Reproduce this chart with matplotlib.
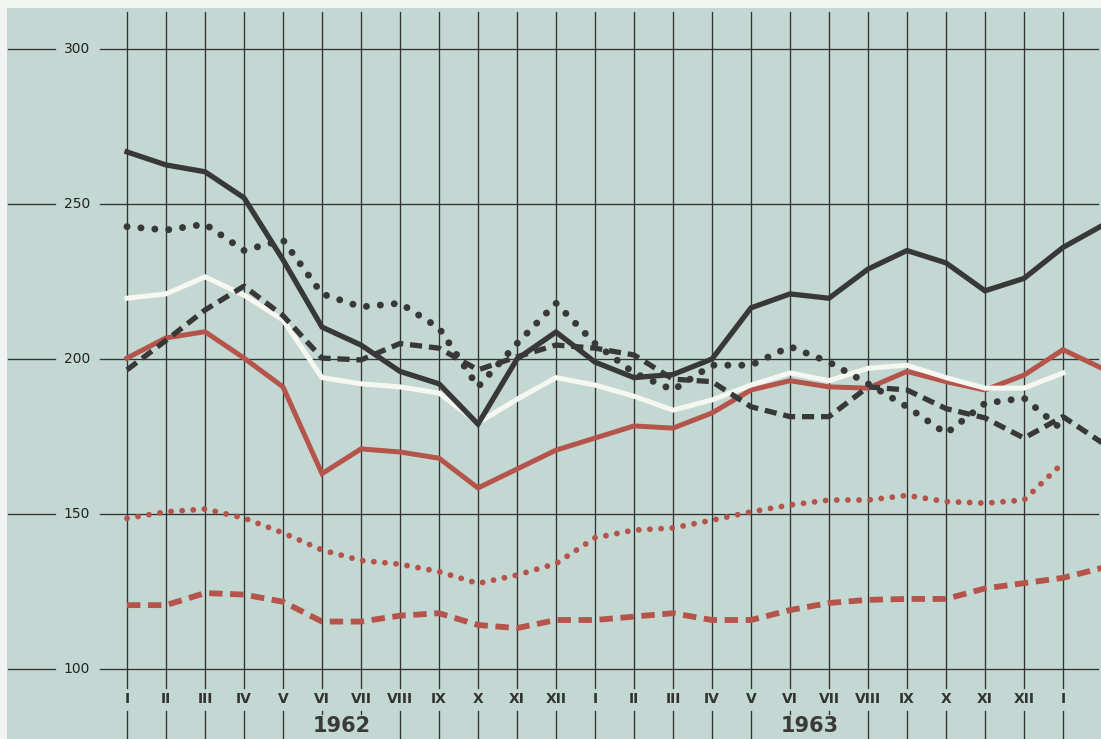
import numpy as np
import matplotlib
matplotlib.use("Agg")
import matplotlib.pyplot as plt

# Monate Jan 1962 .. Jan 1964 (Index 0..24), letzter Punkt 25 = Rand
monate = ["I", "II", "III", "IV", "V", "VI", "VII", "VIII", "IX", "X", "XI", "XII",
          "I", "II", "III", "IV", "V", "VI", "VII", "VIII", "IX", "X", "XI", "XII", "I"]
jahre = ["1962", "1963"]
y_ticks = [100, 150, 200, 250, 300]

# schwarz, durchgezogen
schwarz_voll = [266.8, 262.6, 260.4, 252, 232, 210.3, 204.5, 196, 192, 179,
                200, 208.7, 199, 194, 195, 200, 216.5, 221, 219.6, 229,
                235, 231, 222, 226, 236, 243]
# schwarz, gepunktet (bis I 1964)
schwarz_punkt = [242.7, 241.6, 243.5, 235, 238.4, 221, 216.8, 218, 210, 191,
                 205, 218, 205, 195.5, 190, 198, 198, 204, 199, 192,
                 184.6, 176, 185.7, 187.4, 177]
# weiss
weiss = [219.6, 221, 226.5, 220.6, 212.6, 194, 192, 191, 189, 179.4,
         187, 194, 191.6, 188, 183.5, 186.8, 191.6, 195.5, 193, 197,
         198, 194, 190.6, 190.6, 195.5]
# schwarz, gestrichelt
schwarz_strich = [196.5, 206, 215.8, 223.5, 214, 200.3, 199.7, 205, 203.5, 196.5,
                  200.7, 204.5, 203.5, 201.3, 193.5, 192.7, 184.6, 181.4, 181.4, 191,
                  190, 184, 181, 174.5, 181.4, 173]
# rot, durchgezogen
rot_voll = [200.3, 206.8, 208.8, 200.3, 191, 163, 171, 170, 168, 158.4,
            164.5, 170.6, 174.5, 178.4, 177.7, 182.6, 190, 193, 191, 190.6,
            196, 192.7, 190, 194.8, 203, 197]
# rot, gepunktet
rot_punkt = [148.6, 150.7, 151.6, 148.7, 143.9, 138.4, 135, 133.8, 131.4, 127.6,
             130.3, 134, 142.3, 144.8, 145.5, 148, 150.7, 152.9, 154.5, 154.5,
             156, 154, 153.5, 154.5, 166.5]
# rot, gestrichelt
rot_strich = [120.6, 120.6, 124.5, 124, 121.7, 115.3, 115.3, 117.2, 118, 114.2,
              113.2, 115.8, 115.8, 116.9, 118, 115.8, 115.8, 119, 121.3, 122.3,
              122.6, 122.6, 126, 127.7, 129.4, 132.6]

bg = "#c4d8d3"
grid_c = "#333333"
dunkel = "#383838"
rot = "#b5544b"

fig = plt.figure(figsize=(11.01, 7.39), dpi=100, facecolor="#f2f4f2")
ax = fig.add_axes([0, 0, 1, 1])
# Pixel -> Daten: x = (px-127)/39 , y = 300 - (py-49)/3.1
ax.set_xlim(-127 / 39, (1101 - 127) / 39)
ax.set_ylim(300 - (739 - 49) / 3.1, 300 + 49 / 3.1)
ax.axis("off")

def px(x):
    return (x - 127) / 39

def py(y):
    return 300 - (y - 49) / 3.1

# Hintergrund (Papier)
ax.add_patch(plt.Rectangle((px(7), py(739)), px(1101) - px(7), py(8) - py(739),
                           facecolor=bg, edgecolor="none", zorder=0))

# horizontale Linien mit Beschriftung
for v in y_ticks:
    ax.plot([px(8), px(55)], [v, v], color=grid_c, lw=0.95, zorder=1)
    ax.plot([px(100), px(1098)], [v, v], color=grid_c, lw=0.95, zorder=1)
    ax.text(px(77), v, str(v), ha="center", va="center", fontsize=10,
            color="#222222", family="DejaVu Sans")

# vertikale Linien und Monatsnamen (VI/VII unter der Jahreszahl unterbrochen)
for i, m in enumerate(monate):
    ax.plot([i, i], [py(12), py(688)], color=grid_c, lw=0.95, zorder=1)
    unten = py(714) if m in ("VI", "VII") else py(739)
    ax.plot([i, i], [py(711), unten], color=grid_c, lw=0.95, zorder=1)
    ax.text(i, py(699), m, ha="center", va="center", fontsize=10,
            fontweight="bold", color="#333333", family="DejaVu Sans")

for k, j in enumerate(jahre):
    ax.text(5.5 + 12 * k, py(726), j, ha="center", va="center", fontsize=15,
            fontweight="bold", color="#3a3a3a", family="DejaVu Sans")

def zeichne(werte, farbe, stil, lw, abstand=2.3):
    xs = np.arange(len(werte))
    if stil == "punkt":
        ax.plot(xs, werte, color=farbe, lw=lw, linestyle=(0, (0.01, abstand)),
                dash_capstyle="round", solid_joinstyle="round", zorder=3)
    elif stil == "strich":
        ax.plot(xs, werte, color=farbe, lw=lw, linestyle=(0, (2.3, 1.3)),
                dash_capstyle="butt", zorder=3)
    else:
        ax.plot(xs, werte, color=farbe, lw=lw, solid_joinstyle="miter", zorder=3)

zeichne(rot_strich, rot, "strich", 4.2)
zeichne(rot_punkt, rot, "punkt", 4.2, 1.9)
zeichne(rot_voll, rot, "voll", 3.6)
zeichne(weiss, "#f7f7f2", "voll", 3.6)
zeichne(schwarz_strich, dunkel, "strich", 3.8)
zeichne(schwarz_punkt, dunkel, "punkt", 5.0, 2.0)
zeichne(schwarz_voll, dunkel, "voll", 3.8)

fig.savefig("out.png", dpi=100, facecolor=fig.get_facecolor())
